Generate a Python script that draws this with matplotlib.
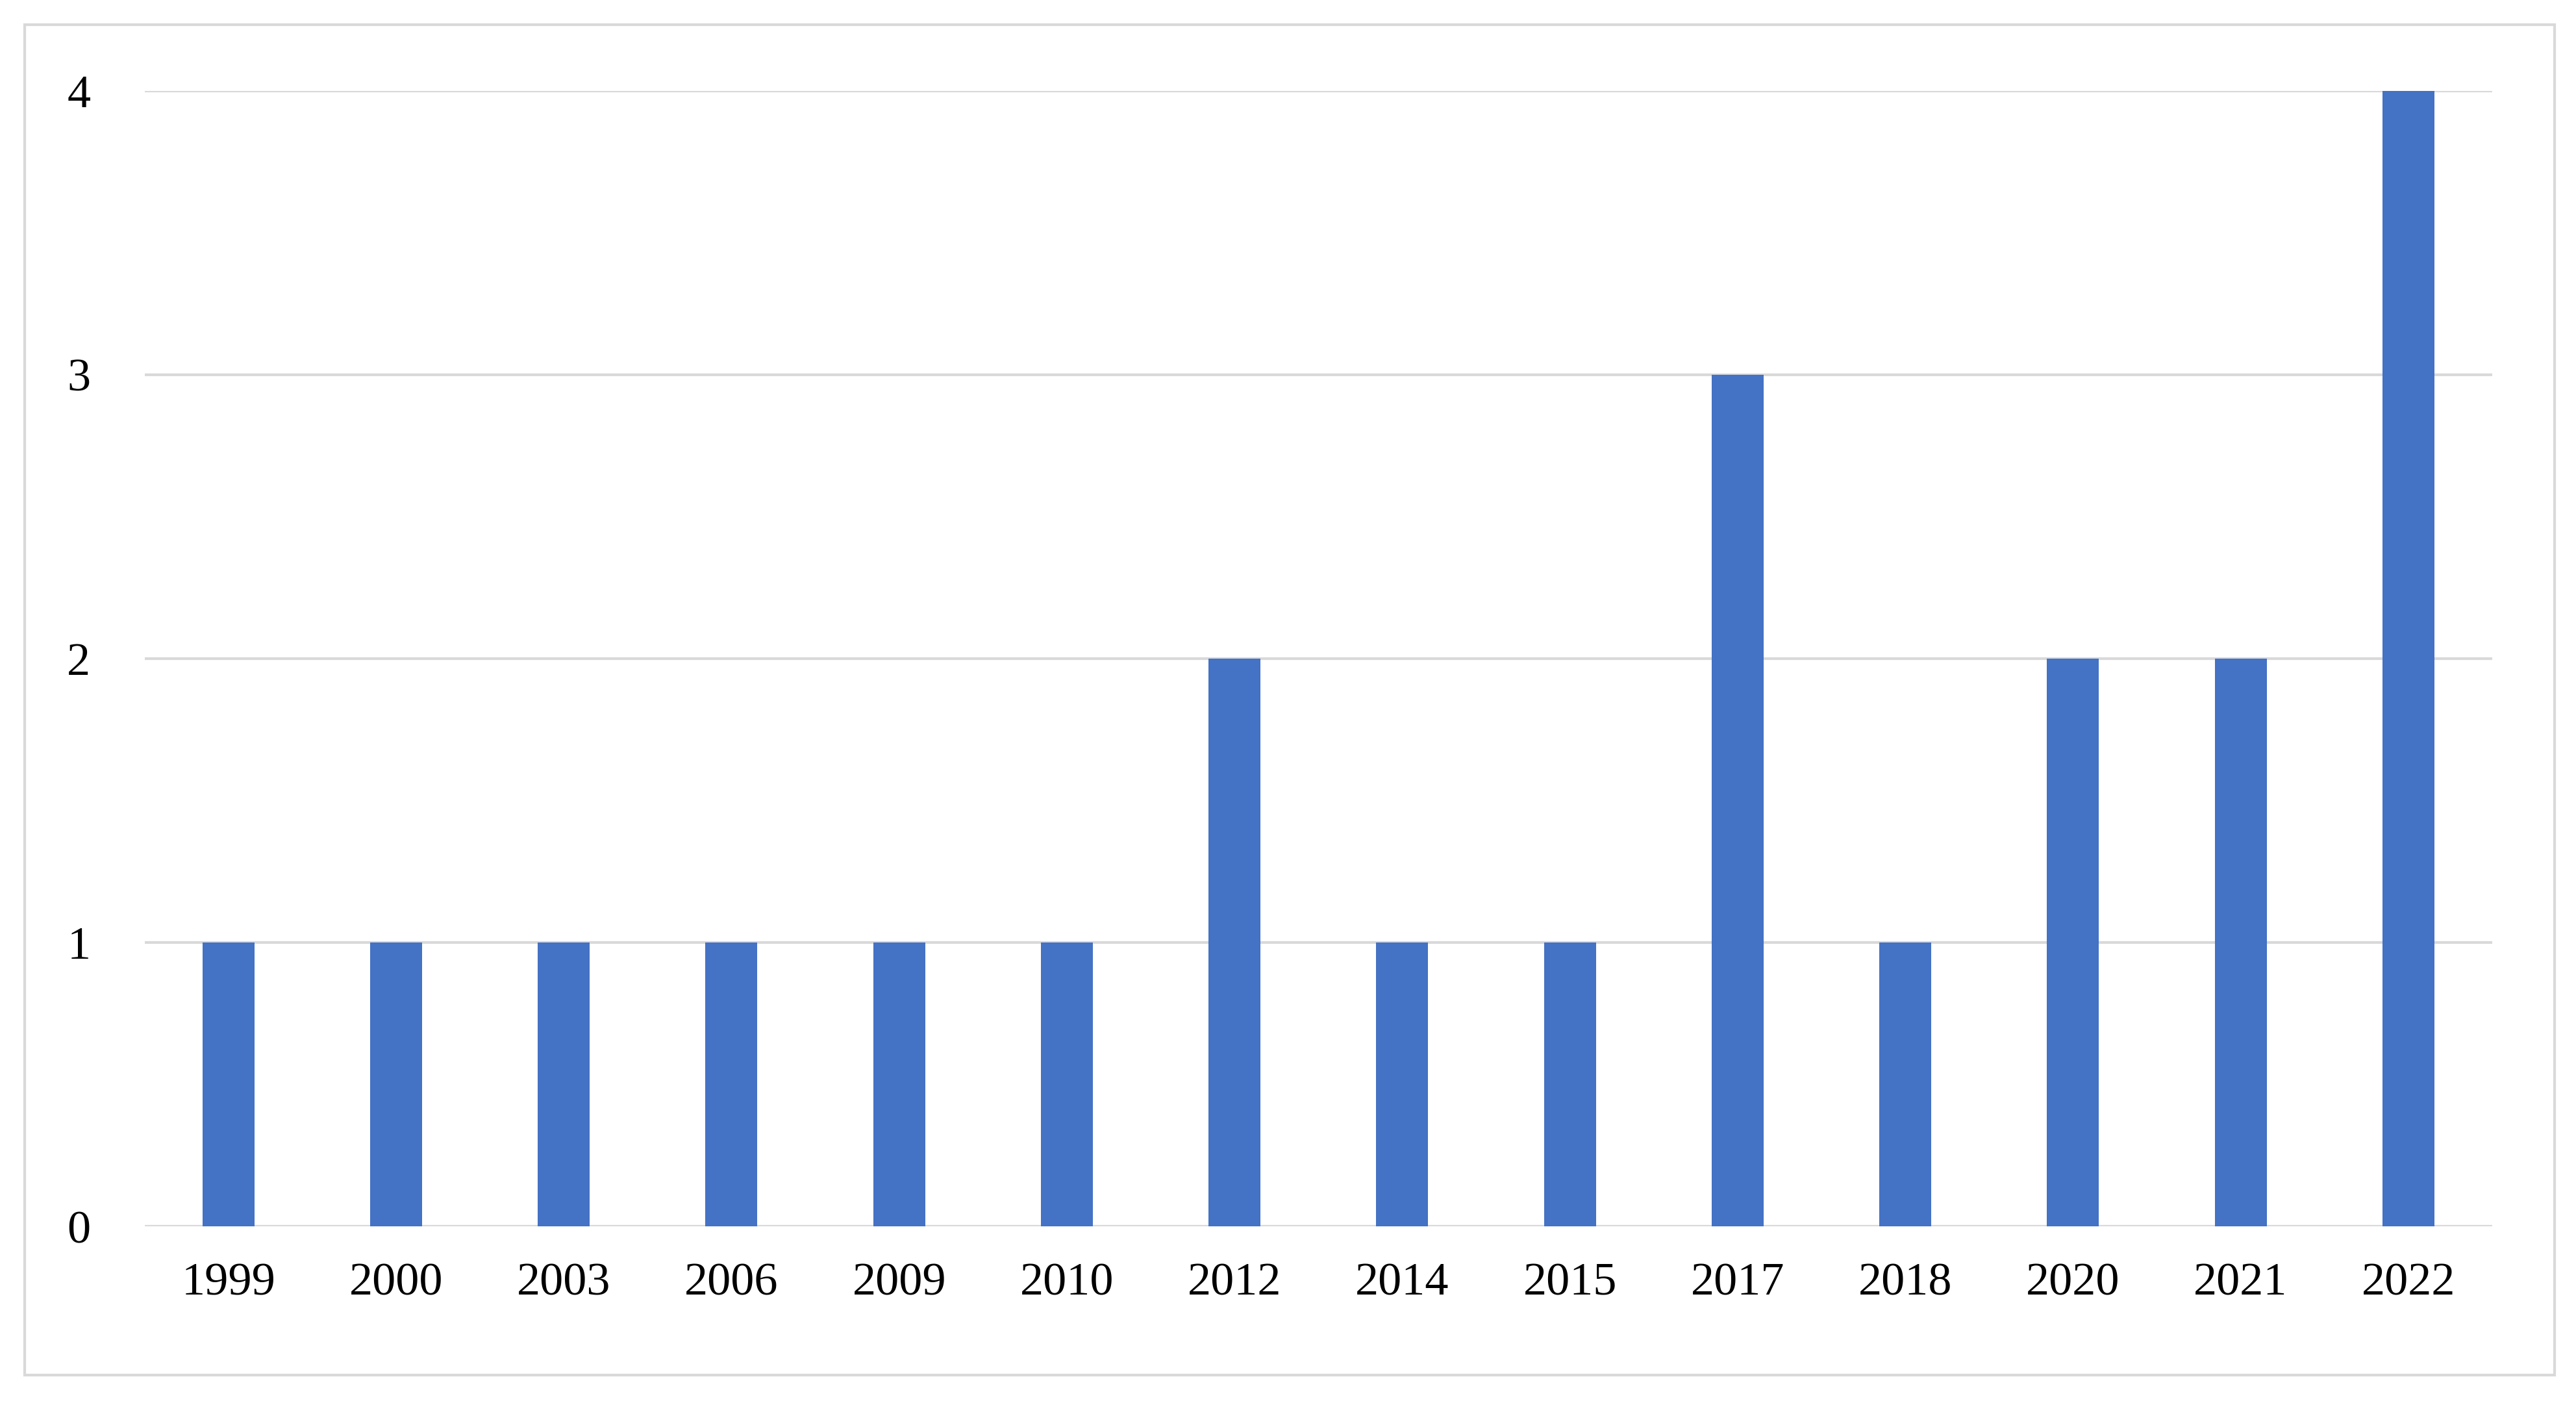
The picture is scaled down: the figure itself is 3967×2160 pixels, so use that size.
import matplotlib
matplotlib.use("Agg")
import matplotlib.pyplot as plt
from matplotlib.patches import Rectangle

years = ["1999","2000","2003","2006","2009","2010","2012","2014","2015","2017","2018","2020","2021","2022"]
counts = [1,1,1,1,1,1,2,1,1,3,1,2,2,4]

plt.rcParams['font.family'] = ['Liberation Serif', 'DejaVu Serif']
fig = plt.figure(figsize=(39.67, 21.6), dpi=100)
fig.patches.append(Rectangle((15/1568, 1-833/850), (1555-15)/1568, (833-15)/850,
                             transform=fig.transFigure, fill=False, edgecolor='#d9d9d9', linewidth=3))
ax = fig.add_axes([88/1568, 1-743/850, (1517-88)/1568, (743-55)/850])
x = range(len(years))
ax.bar(x, counts, width=0.31, color='#4472C4', zorder=3)
ax.set_xlim(-0.5, len(years)-0.5)
ax.set_ylim(0, 4)
ax.set_yticks([0,1,2,3,4])
ax.set_xticks(list(x))
ax.set_xticklabels(years)
ax.grid(axis='y', color='#d9d9d9', linewidth=3, zorder=0)
for s in ax.spines.values():
    s.set_visible(False)
ax.axhline(0, color='#d9d9d9', linewidth=3, zorder=1)
ax.tick_params(axis='both', length=0, labelsize=52)
ax.tick_params(axis='x', pad=40)
ax.tick_params(axis='y', pad=60)
fig.savefig("out.png", dpi=100)
